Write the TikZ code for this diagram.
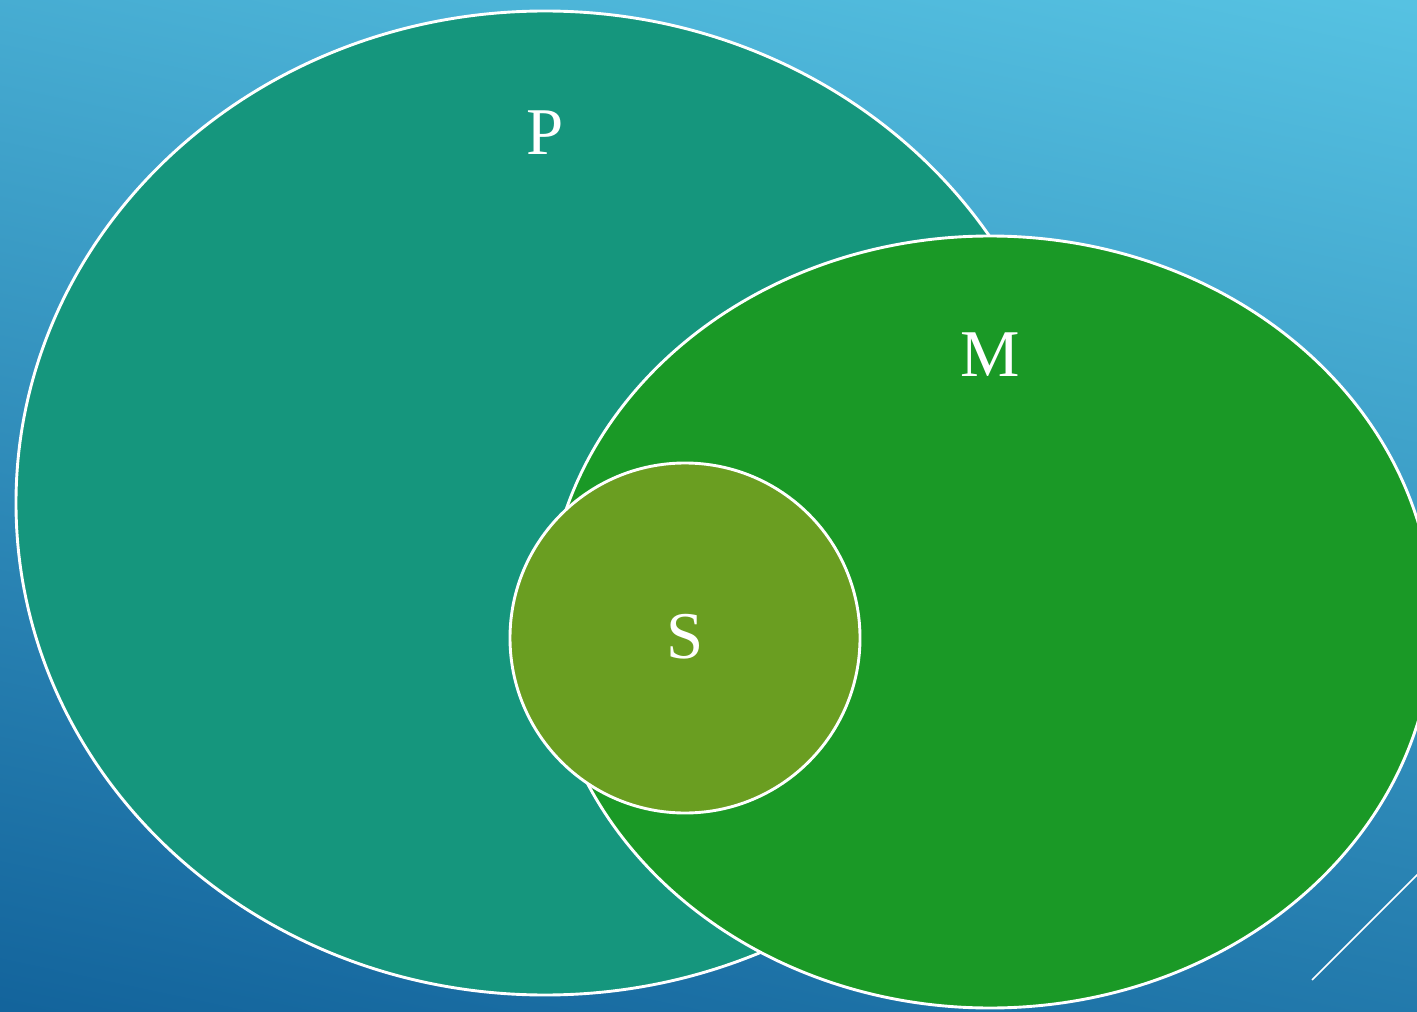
\documentclass[tikz,border=0pt]{standalone}
\usepackage{fontspec}
\setmainfont{Liberation Serif}
\definecolor{bgtop}{HTML}{56C2E2}
\definecolor{bgbot}{HTML}{13649C}
\definecolor{pfill}{HTML}{15967D}
\definecolor{mfill}{HTML}{1A9926}
\definecolor{sfill}{HTML}{6A9E21}
\tikzset{
  setshape/.style={draw=white, line width=1.65pt},
  setlabel/.style={text=white, font=\fontsize{38}{40}\selectfont, inner sep=0pt}
}
\begin{document}
\begin{tikzpicture}
\useasboundingbox (0,0) rectangle (28.34,20.22);
\clip (0,0) rectangle (28.34,20.22);
\shade[top color=bgtop, bottom color=bgbot, shading angle=-12] (-2,-2) rectangle (30.34,22.22);
\draw[setshape, fill=pfill] (10.90,10.16) ellipse [x radius=10.58cm, y radius=9.84cm];
\draw[setshape, fill=mfill] (19.80,7.78) ellipse [x radius=8.86cm, y radius=7.72cm];
\draw[setshape, fill=sfill] (13.70,7.46) circle [radius=3.50cm];
\node[setlabel] (lp) at (10.90,17.56) {P};
\node[setlabel] (lm) at (19.80,13.12) {M};
\node[setlabel] (ls) at (13.70,7.48) {S};
\coordinate (ta) at (26.24,0.62);
\coordinate (tb) at (28.40,2.78);
\draw[white, line width=0.9pt] (ta) -- (tb);
\end{tikzpicture}
\end{document}
